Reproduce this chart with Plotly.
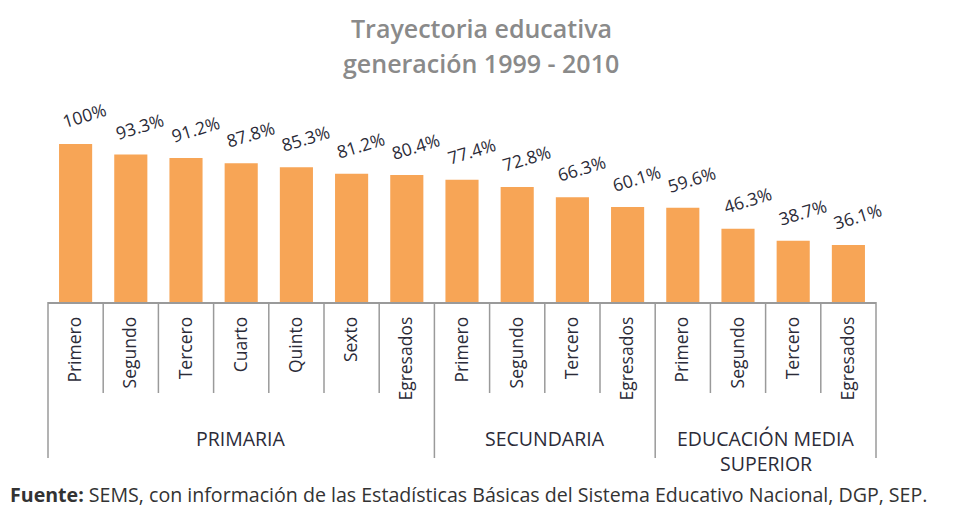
import plotly.graph_objects as go

categories = ["Primero", "Segundo", "Tercero", "Cuarto", "Quinto", "Sexto", "Egresados",
              "Primero", "Segundo", "Tercero", "Egresados",
              "Primero", "Segundo", "Tercero", "Egresados"]
values = [100, 93.3, 91.2, 87.8, 85.3, 81.2, 80.4, 77.4, 72.8, 66.3, 60.1, 59.6, 46.3, 38.7, 36.1]
labels = ["100%", "93.3%", "91.2%", "87.8%", "85.3%", "81.2%", "80.4%", "77.4%", "72.8%",
          "66.3%", "60.1%", "59.6%", "46.3%", "38.7%", "36.1%"]
groups = ["PRIMARIA", "SECUNDARIA", "EDUCACIÓN MEDIA<br>SUPERIOR"]
group_sizes = [7, 4, 4]

OFF = 8  # page body margin
W, H = 955 - OFF, 508 - OFF
ML, MR, MT, MB = 48 - OFF, 79, 100 - OFF, 206
PH = H - MT - MB
PW = W - ML - MR
N = len(values)
xs = list(range(N))

def py(p):
    return (H - MB - (p - OFF)) / PH

def px(p):
    return ((p - OFF) - ML) / PW

FONT = "Open Sans"
TXT = "#2b2b38"
LINE = "#9a9a9a"

fig = go.Figure(go.Bar(
    x=xs, y=values, width=0.6, marker=dict(color="#F7A556", line=dict(width=0)),
    hoverinfo="skip"))

ann = []
for i, (v, t) in enumerate(zip(values, labels)):
    ann.append(dict(x=i, y=v, xref="x", yref="y", text=t, showarrow=False,
                    textangle=-17, xshift=9, yshift=29, xanchor="center", yanchor="middle",
                    font=dict(family=FONT, size=17.5, color=TXT)))

shapes = []
start = 0
bounds = []
for g, n in zip(groups, group_sizes):
    end = start + n
    center = (start + end) / 2 / N
    for k, ln in enumerate(g.split("<br>")):
        ann.append(dict(x=center, y=py(438 + 25 * k), xref="paper", yref="paper", text=ln,
                        xanchor="center", yanchor="middle", showarrow=False,
                        font=dict(family=FONT, size=19.5, color=TXT)))
    for b in range(start + 1, end):
        shapes.append(dict(type="line", xref="paper", yref="paper", x0=b / N, x1=b / N,
                           y0=0, y1=py(393), line=dict(color=LINE, width=1.5)))
    bounds.append(start)
    start = end
bounds.append(start)
for b in bounds:
    shapes.append(dict(type="line", xref="paper", yref="paper", x0=b / N, x1=b / N,
                       y0=0, y1=py(458), line=dict(color=LINE, width=1.5)))

for txt, yy in [("Trayectoria educativa", 28), ("generación 1999 - 2010", 63)]:
    ann.append(dict(x=px(481), y=py(yy), xref="paper", yref="paper", text=txt,
                    xanchor="center", yanchor="middle", showarrow=False,
                    font=dict(family=FONT, size=25, color="#8a8a8a", weight=600)))
ann.append(dict(x=px(8), y=py(494), xref="paper", yref="paper", xanchor="left", yanchor="middle",
                text="<b>Fuente:</b> SEMS, con información de las Estadísticas Básicas del Sistema Educativo Nacional, DGP, SEP.",
                showarrow=False, font=dict(family=FONT, size=19.6, color="#333333")))

fig.update_layout(
    width=W, height=H, margin=dict(l=ML, r=MR, t=MT, b=MB),
    paper_bgcolor="white", plot_bgcolor="white", showlegend=False,
    annotations=ann, shapes=shapes, bargap=0.4,
    xaxis=dict(tickmode="array", tickvals=xs, ticktext=categories, tickangle=-90,
               range=[-0.5, N - 0.5], showgrid=False, zeroline=False,
               showline=True, linecolor=LINE, linewidth=1.5,
               ticks="outside", ticklen=6, tickcolor="rgba(0,0,0,0)",
               tickfont=dict(family=FONT, size=17.5, color=TXT)),
    yaxis=dict(range=[0, 100 * PH / 158], visible=False, fixedrange=True),
)

fig.write_html("out.html")
